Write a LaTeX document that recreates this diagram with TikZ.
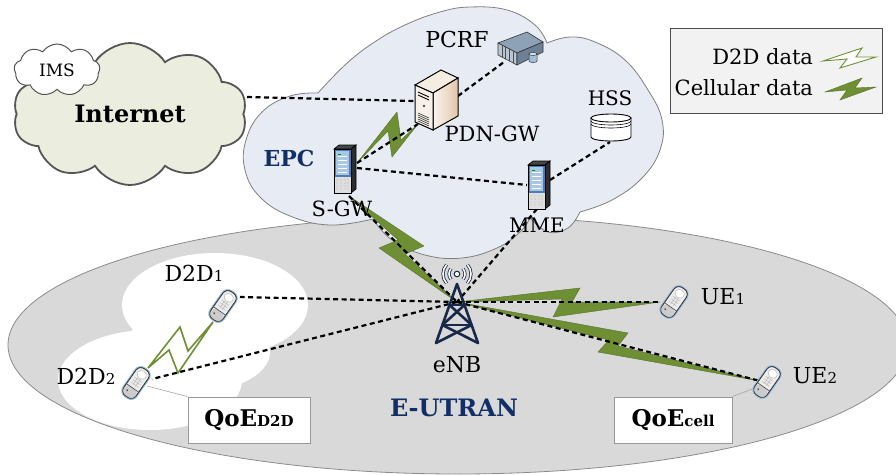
\documentclass[tikz,border=0pt]{standalone}
\usepackage{fontspec}
\setmainfont{DejaVu Serif}
\usetikzlibrary{shapes.symbols}

\definecolor{ellfill}{HTML}{D9D9D9}
\definecolor{ellline}{HTML}{8C8C8C}
\definecolor{epcfill}{HTML}{E7ECF4}
\definecolor{epcline}{HTML}{7F7F7F}
\definecolor{netfill}{HTML}{EBEEDF}
\definecolor{netline}{HTML}{555555}
\definecolor{navy}{HTML}{112E66}
\definecolor{boltgreen}{HTML}{6F8F35}
\definecolor{boltdark}{HTML}{55702A}
\definecolor{legendfill}{HTML}{F2F2F2}
\definecolor{towerblue}{HTML}{182848}
\definecolor{phoneglow}{HTML}{9CC3E6}
\definecolor{srvblue}{HTML}{4A7EBB}
\definecolor{srvlight}{HTML}{A9C8E8}
\definecolor{rackTop}{HTML}{8DA2B6}
\definecolor{rackFront}{HTML}{B9C5D0}
\definecolor{rackSide}{HTML}{6C8196}
\definecolor{rackCyl}{HTML}{A3BDD6}

\newcommand{\fsz}[1]{\fontsize{#1}{#1}\selectfont}
\newcommand{\lowsub}[1]{{\fsz{15}#1}}

\tikzset{
  lbl/.style={inner sep=0pt, outer sep=0pt},
  link/.style={draw=black, line width=2.2pt, dash pattern=on 5pt off 3.5pt},
  qoelink/.style={draw=gray!70, line width=0.6pt},
  bolt/.style={fill=boltgreen, draw=boltdark, line width=0.4pt, line join=miter},
  d2dbolt/.style={fill=white, draw=boltgreen, line width=1.6pt, line join=miter},
  qoebox/.style={draw=gray!80, fill=white, line width=0.8pt, minimum width=122pt,
    minimum height=46pt, inner sep=0pt, font=\bfseries\fsz{23}},
  netcloud/.style={cloud, cloud puffs=10, cloud puff arc=115, cloud ignores aspect,
    fill=netfill, draw=netline, line width=1.8pt, inner sep=0pt},
  imscloud/.style={cloud, cloud puffs=9, cloud puff arc=115, cloud ignores aspect,
    fill=white, draw=netline, line width=1pt, inner sep=0pt, font=\fsz{17}},
  wave/.style={draw=towerblue, double=white, double distance=1.6pt, line width=0.8pt},
  % flip phone, drawn upright and tilted
  phone/.pic={
    \begin{scope}[rotate=-35]
      \draw[line width=3pt, draw=phoneglow, rounded corners=6pt] (-7.5,-16.5) rectangle (7.5,16.5);
      \filldraw[fill=gray!15, draw=gray!50!black, line width=0.7pt, rounded corners=6pt]
        (-7.5,-16.5) rectangle (7.5,16.5);
      \fill[gray!40, rounded corners=5pt] (-7.5,6) -- (7.5,6) -- (7.5,16.5) -- (-7.5,16.5) -- cycle;
      \draw[gray!50!black, line width=0.7pt, rounded corners=6pt] (-7.5,-16.5) rectangle (7.5,16.5);
      \filldraw[fill=white, draw=gray!60, line width=0.4pt] (0,-10) ellipse (4.8 and 4.2);
      \foreach \yy in {-4,-1,2} \draw[gray!60, line width=0.4pt] (-4.5,\yy) -- (4.5,\yy);
      \foreach \xx in {-1.5,1.5} \draw[gray!60, line width=0.4pt] (\xx,-5.5) -- (\xx,3.5);
      \draw[gray!50!black, line width=0.6pt] (-7.5,6) -- (7.5,6);
      \fill[black!70] (-3,11) circle (1);
    \end{scope}
  },
  % slim tower server
  towerserver/.pic={
    \filldraw[fill=gray!55!black, draw=black, line width=0.7pt]
      (-11,-20) -- (-6,-24) -- (11,-24) -- (6,-20) -- cycle;
    \filldraw[fill=gray!35!black, draw=black, line width=0.7pt]
      (6,-20) -- (11,-24) -- (11,20) -- (6,24) -- cycle;
    \filldraw[fill=gray!25, draw=black, line width=0.7pt] (-11,-20) rectangle (6,24);
    \fill[srvblue] (-10.5,-19.5) rectangle (5.5,8);
    \fill[srvlight] (-9,-18) rectangle (4,6);
    \foreach \yy in {-13,-9,...,3} \draw[white, line width=0.8pt] (-7,\yy) -- (2,\yy);
    \fill[green!60!black] (-7,-15.5) rectangle (-4,-14.5);
    \foreach \yy in {11,14,17,20} \foreach \xx in {-8,-4,0,3}
      \fill[gray!60] (\xx,\yy) circle (0.6);
    \draw[black, line width=0.7pt] (-11,-20) rectangle (6,24);
  },
  % desktop style gateway server
  pdnserver/.pic={
    \filldraw[fill=white!85!brown, draw=black, line width=1pt]
      (-21,-15) -- (5,-30) -- (22,-22) -- (-3,-7) -- cycle;
    \path[left color=white!92!brown, right color=brown!45!white, draw=black, line width=1pt]
      (-3,-7) -- (22,-22) -- (22,16) -- (-3,30) -- cycle;
    \filldraw[fill=white!88!brown, draw=black, line width=1pt]
      (-21,-15) -- (-3,-7) -- (-3,30) -- (-21,22) -- cycle;
    \foreach \yy in {-8,-5} \draw[black, line width=0.9pt] (-18,\yy) -- (-7,{\yy+5});
    \fill[black!70] (-12,6) circle (1.3);
    \foreach \yy in {13,15,17,19,21} \draw[black!80, line width=0.6pt] (-18,\yy) -- (-7,{\yy+5});
  },
  % rack mounted policy server
  rackserver/.pic={
    \filldraw[fill=rackTop, draw=black!80, line width=0.6pt]
      (-22,-5) -- (7,-16) -- (23,-6) -- (-3,5) -- cycle;
    \filldraw[fill=rackFront, draw=black!80, line width=0.6pt]
      (-22,-5) -- (-3,5) -- (-3,17) -- (-22,7) -- cycle;
    \foreach \t in {0.2,0.4,0.6,0.8}
      \draw[black!70, line width=0.6pt] ({-22+19*\t},{-5+10*\t}) -- ++(0,12);
    \filldraw[fill=rackSide, draw=black!80, line width=0.6pt]
      (-3,5) -- (23,-6) -- (23,4) -- (-3,17) -- cycle;
    \filldraw[fill=rackCyl, draw=black!80, line width=0.5pt]
      (9,6) -- (9,13) arc[start angle=180, end angle=0, x radius=4, y radius=1.5] -- (17,6) -- cycle;
    \filldraw[fill=white!60!rackCyl, draw=black!80, line width=0.5pt] (13,6) ellipse (4 and 1.5);
  },
}

\begin{document}
\begin{tikzpicture}[x=1pt, y=-1pt]
\useasboundingbox (0,0) rectangle (896,474);
\clip (0,0) rectangle (896,474);

% radio access network area
\draw[fill=ellfill, draw=ellline, line width=0.8pt] (458,345) ellipse (450 and 129);

% D2D cluster area
\fill[white] (215,305) ellipse (93 and 52) (150,380) ellipse (92 and 50) (195,352) ellipse (75 and 40);

% EPC core cloud
\path[fill=epcfill, draw=epcline, line width=0.8pt]
  plot[smooth, tension=0.7] coordinates {(318,93) (290,96) (262,112) (246,140) (245,170) (260,197) (290,216) (330,225) (373,219)}
  -- plot[smooth, tension=0.7] coordinates {(373,219) (392,240) (425,255) (462,258) (497,248) (520,232) (530,218)}
  -- plot[smooth, tension=0.7] coordinates {(530,218) (548,232) (568,228) (580,212)}
  -- plot[smooth, tension=0.7] coordinates {(580,212) (612,200) (642,178) (660,150) (662,120) (648,90) (625,60) (595,42) (570,37) (547,43)}
  -- plot[smooth, tension=0.7] coordinates {(547,43) (535,25) (507,10) (470,7) (440,12) (405,25) (373,43) (345,65) (318,93)}
  -- cycle;

% Internet and IMS
\node[netcloud, minimum width=234pt, minimum height=142pt] (internet) at (130,114)
  {\bfseries\fsz{24}Internet};
\node[imscloud, minimum width=86pt, minimum height=52pt] (ims) at (57,70) {IMS};

% anchor points of the devices
\coordinate (net-e) at (247,97);
\coordinate (pdn-w) at (414,101);
\coordinate (pdn-ne) at (458,96);
\coordinate (pcrf-sw) at (504,62);
\coordinate (sgw-ne) at (357,163);
\coordinate (pdn-sw) at (418,124);
\coordinate (sgw-e) at (357,168);
\coordinate (mme-w) at (527,185);
\coordinate (mme-ne) at (550,180);
\coordinate (hss-s) at (610,142);
\coordinate (sgw-s) at (349,196);
\coordinate (mme-s) at (537,209);
\coordinate (enb) at (457,302);
\coordinate (d2d1-e) at (240,297);
\coordinate (d2d2-e) at (152,379);
\coordinate (ue1-w) at (660,302);
\coordinate (ue2-w) at (760,381);
\coordinate (d2d1-sw) at (213,322);
\coordinate (d2d2-ne) at (148,368);
\coordinate (d2d2-se) at (147,386);
\coordinate (ue2-sw) at (755,388);

% QoE boxes
\node[qoebox] (qoed2d) at (249,420) {QoE\lowsub{D2D}};
\node[qoebox, minimum width=118pt] (qoecell) at (673,420) {QoE\lowsub{cell}};
\draw[qoelink] (d2d2-se) -- (qoed2d.north west);
\draw[qoelink] (ue2-sw) -- (qoecell.north east);

% data bolts
\path[d2dbolt] (d2d2-ne) -- (180,327) -- (188,351) -- (d2d1-sw) -- (178,373) -- (169,350) -- cycle;
\path[bolt] (sgw-ne) -- (397,112) -- (401,140) -- (pdn-sw) -- (392,157) -- (388,131) -- cycle;
\path[bolt] (sgw-s) -- (424,246) -- (405,254) -- (enb) -- (379,248) -- (398,240) -- cycle;
\path[bolt] (enb) -- (580,288) -- (572,302) -- (ue1-w) -- (553,317) -- (562,299) -- cycle;
\path[bolt] (enb) -- (628,333) -- (618,346) -- (ue2-w) -- (598,352) -- (609,340) -- cycle;

% signalling and bearer links
\draw[link] (net-e) -- (pdn-w);
\draw[link] (pdn-ne) -- (pcrf-sw);
\draw[link] (sgw-ne) -- (pdn-sw);
\draw[link] (sgw-e) -- (mme-w);
\draw[link] (mme-ne) -- (hss-s);
\draw[link] (sgw-s) -- (enb);
\draw[link] (mme-s) -- (enb);
\draw[link] (enb) -- (d2d1-e);
\draw[link] (enb) -- (d2d2-e);
\draw[link] (enb) -- (ue1-w);
\draw[link] (enb) -- (ue2-w);

% core devices
\pic at (436,100) {pdnserver};
\pic at (520,48) {rackserver};
\pic at (345,169) {towerserver};
\pic at (539,185) {towerserver};
% HSS database
\filldraw[fill=white, draw=black, line width=0.9pt]
  (591,118) -- (591,137) arc[start angle=180, end angle=0, x radius=20, y radius=4] -- (631,118) -- cycle;
\draw[black, line width=0.6pt] (591,121) arc[start angle=180, end angle=0, x radius=20, y radius=4];
\draw[black, line width=0.6pt] (591,124) arc[start angle=180, end angle=0, x radius=20, y radius=4];
\filldraw[fill=white, draw=black, line width=0.9pt] (611,118) ellipse (20 and 4);

% eNB antenna mast
\begin{scope}[draw=towerblue, line width=2.6pt, line cap=round, line join=round]
  \draw (436,343) -- (457,284) -- (478,343);
  \draw (449.5,305) -- (464.5,305);
  \draw (442.4,325) -- (471.6,325);
  \draw (449.5,305) -- (471.6,325);
  \draw (464.5,305) -- (442.4,325);
  \draw (442.4,325) -- (478,343);
  \draw (471.6,325) -- (436,343);
\end{scope}
\filldraw[fill=white, draw=towerblue, line width=1pt] (457,274) circle (2.8);
\draw[wave] (457,274) ++(42:8) arc[start angle=42, end angle=-42, radius=8];
\draw[wave] (457,274) ++(138:8) arc[start angle=138, end angle=222, radius=8];
\draw[wave] (457,274) ++(42:14) arc[start angle=42, end angle=-42, radius=14];
\draw[wave] (457,274) ++(138:14) arc[start angle=138, end angle=222, radius=14];

% user equipment
\pic at (223,306) {phone};
\pic at (136,383) {phone};
\pic at (674,302) {phone};
\pic at (767,382) {phone};

% labels
\node[lbl, font=\fsz{22}] (pcrf-lbl) at (457,39) {PCRF};
\node[lbl, font=\fsz{21}] (pdn-lbl) at (492,134) {PDN-GW};
\node[lbl, font=\fsz{20}] (hss-lbl) at (610,98) {HSS};
\node[lbl, font=\bfseries\fsz{22}, text=navy] (epc-lbl) at (289,158) {EPC};
\node[lbl, font=\fsz{21}] (sgw-lbl) at (342,209) {S-GW};
\node[lbl, font=\fsz{20}] (mme-lbl) at (537,225) {MME};
\node[lbl, font=\fsz{22}] (enb-lbl) at (457,365) {eNB};
\node[lbl, font=\bfseries\fsz{24}, text=navy] (eutran-lbl) at (454,408) {E-UTRAN};
\node[lbl, font=\fsz{22}] (d2d1-lbl) at (194,273) {D2D\lowsub{1}};
\node[lbl, font=\fsz{22}] (d2d2-lbl) at (86,376) {D2D\lowsub{2}};
\node[lbl, font=\fsz{22}] (ue1-lbl) at (723,297) {UE\lowsub{1}};
\node[lbl, font=\fsz{22}] (ue2-lbl) at (815,376) {UE\lowsub{2}};

% legend
\node[draw=gray!60!black, fill=legendfill, line width=0.8pt, minimum width=212pt,
  minimum height=85pt, inner sep=0pt] (legend) at (776,70.5) {};
\node[lbl, font=\fsz{21}, anchor=east] (lg-d2d) at (813,57) {D2D data};
\node[lbl, font=\fsz{21}, anchor=east] (lg-cell) at (813,88) {Cellular data};
\coordinate (lg-d2d-a) at (823,61);
\coordinate (lg-d2d-b) at (876,57);
\coordinate (lg-cell-a) at (825,92);
\coordinate (lg-cell-b) at (876,87);
\path[d2dbolt, line width=0.9pt] (lg-d2d-a) -- (862,48) -- (856,57) -- (lg-d2d-b) -- (840,68) -- (847,59) -- cycle;
\path[bolt] (lg-cell-a) -- (862,78) -- (855,88) -- (lg-cell-b) -- (840,100) -- (847,90) -- cycle;
\end{tikzpicture}
\end{document}
